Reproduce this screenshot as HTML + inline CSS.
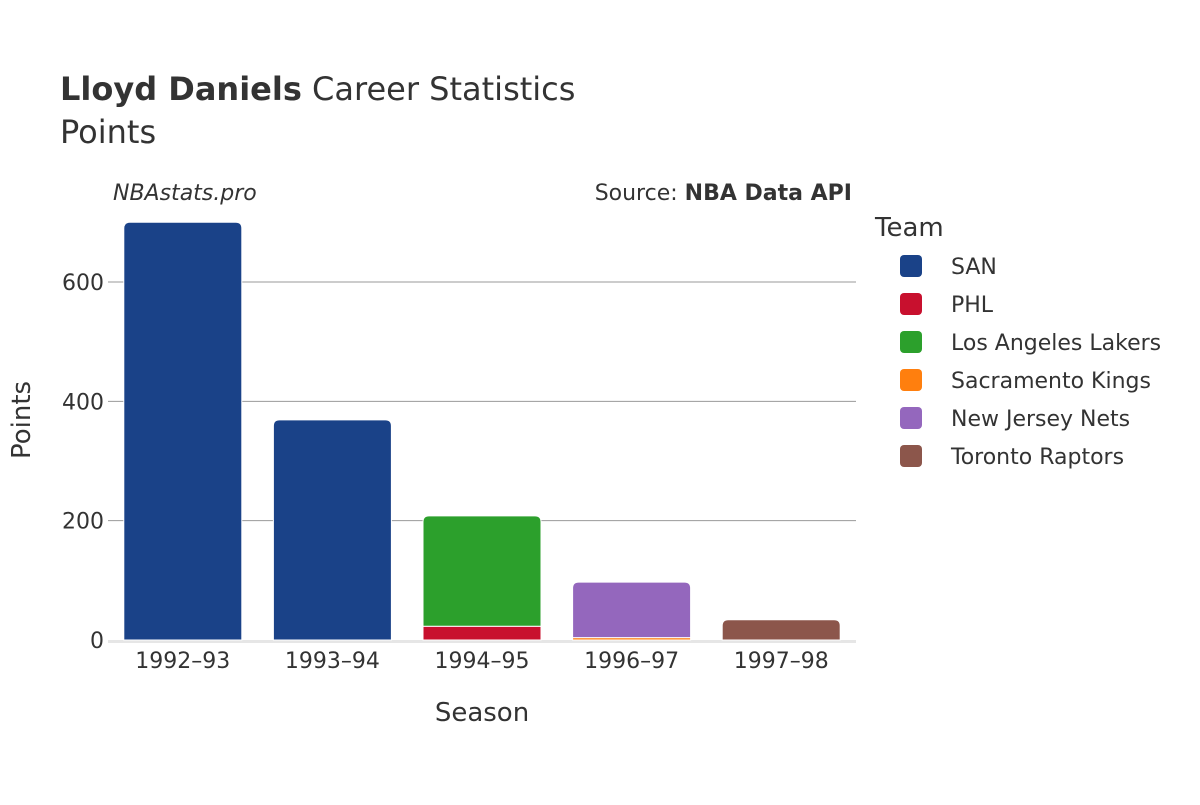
<!DOCTYPE html>
<html><head><meta charset="utf-8"><style>
body{margin:0;background:#fff;font-family:"Liberation Sans","DejaVu Sans",sans-serif;}
</style></head><body>
<svg width="1200" height="800" xmlns="http://www.w3.org/2000/svg" font-family="DejaVu Sans, Liberation Sans, sans-serif">
<text x="60" y="100" font-size="32" fill="#333"><tspan font-weight="bold">Lloyd Daniels</tspan> Career Statistics</text>
<text x="60" y="143" font-size="32" fill="#333">Points</text>
<text x="113" y="200" font-size="22" font-style="italic" fill="#333">NBAstats.pro</text>
<text x="852" y="200" font-size="22" fill="#333" text-anchor="end">Source: <tspan font-weight="bold">NBA Data API</tspan></text>
<g id="grid"></g>
<g id="bars"></g>
<g id="xt"></g>
<text x="30" y="420" font-size="26" fill="#333" text-anchor="middle" transform="rotate(-90 30 420)">Points</text>
<text x="482" y="721" font-size="26" fill="#333" text-anchor="middle">Season</text>
<text x="875" y="236" font-size="26" fill="#333">Team</text>
<g id="legend"></g>
</svg>
<script>
const seasons=["1992–93","1993–94","1994–95","1996–97","1997–98"];
const teams=["SAN","PHL","Los Angeles Lakers","Sacramento Kings","New Jersey Nets","Toronto Raptors"];
const colors=["#1a4288","#c8102e","#2ca02c","#ff7f0e","#9467bd","#8c564b"];
const san=[700,369,0,0,0];
const phl=[0,0,23,0,0];
const lal=[0,0,185,0,0];
const sac=[0,0,0,4,0];
const njn=[0,0,0,93,0];
const tor=[0,0,0,0,34];
const yTicks=[0,200,400,600];
const series=[san,phl,lal,sac,njn,tor];
const NS="http://www.w3.org/2000/svg";
const x0=108,pw=748,y0=640,k=0.5967;
const band=pw/seasons.length,bw=118;
const y=v=>y0-v*k;
const xc=i=>x0+band*(i+0.5);
function mk(t,a,p){const e=document.createElementNS(NS,t);for(const q in a)e.setAttribute(q,a[q]);p.appendChild(e);return e;}
const grid=document.getElementById('grid');
yTicks.forEach(t=>{
 if(t>0){const l=mk('line',{x1:x0,x2:x0+pw,y1:y(t),y2:y(t),stroke:'#999','stroke-width':1},grid);
 
 }
 const tx=mk('text',{x:x0-4,y:y(t)+8,'font-size':22,fill:'#333','text-anchor':'end'},grid);tx.textContent=t;
 
 
});
const base=mk('line',{x1:x0,x2:x0+pw,y1:y0+1.5,y2:y0+1.5,stroke:'#e6e6e6','stroke-width':3},grid);


const bars=document.getElementById('bars');
seasons.forEach((s,i)=>{
 let cum=0;const segs=[];
 series.forEach((ser,j)=>{if(ser[i]>0){segs.push([j,cum,cum+ser[i]]);cum+=ser[i];}});
 segs.forEach((sg,n)=>{
  const [j,a,b]=sg;const top=n===segs.length-1;
  const x=xc(i)-bw/2,yt=y(b),yb=y(a),h=yb-yt,r=top?Math.min(6,h):0;
  const d=`M${x},${yb}L${x},${yt+r}Q${x},${yt} ${x+r},${yt}L${x+bw-r},${yt}Q${x+bw},${yt} ${x+bw},${yt+r}L${x+bw},${yb}Z`;
  const p=mk('path',{d:d,fill:colors[j],stroke:'#fff','stroke-width':1},bars);
  
  
 });
 const t=mk('text',{x:xc(i),y:668,'font-size':22,fill:'#333','text-anchor':'middle'},document.getElementById('xt'));
 t.textContent=s;
 
 
});
const lg=document.getElementById('legend');
teams.forEach((tm,j)=>{
 const g=mk('g',{},lg);
 
 
 const yy=266+j*38;
 mk('rect',{x:900,y:yy-11,width:22,height:22,rx:4,fill:colors[j]},g);
 const t=mk('text',{x:951,y:yy+8,'font-size':22,fill:'#333'},g);t.textContent=tm;
});
</script>
</body></html>
